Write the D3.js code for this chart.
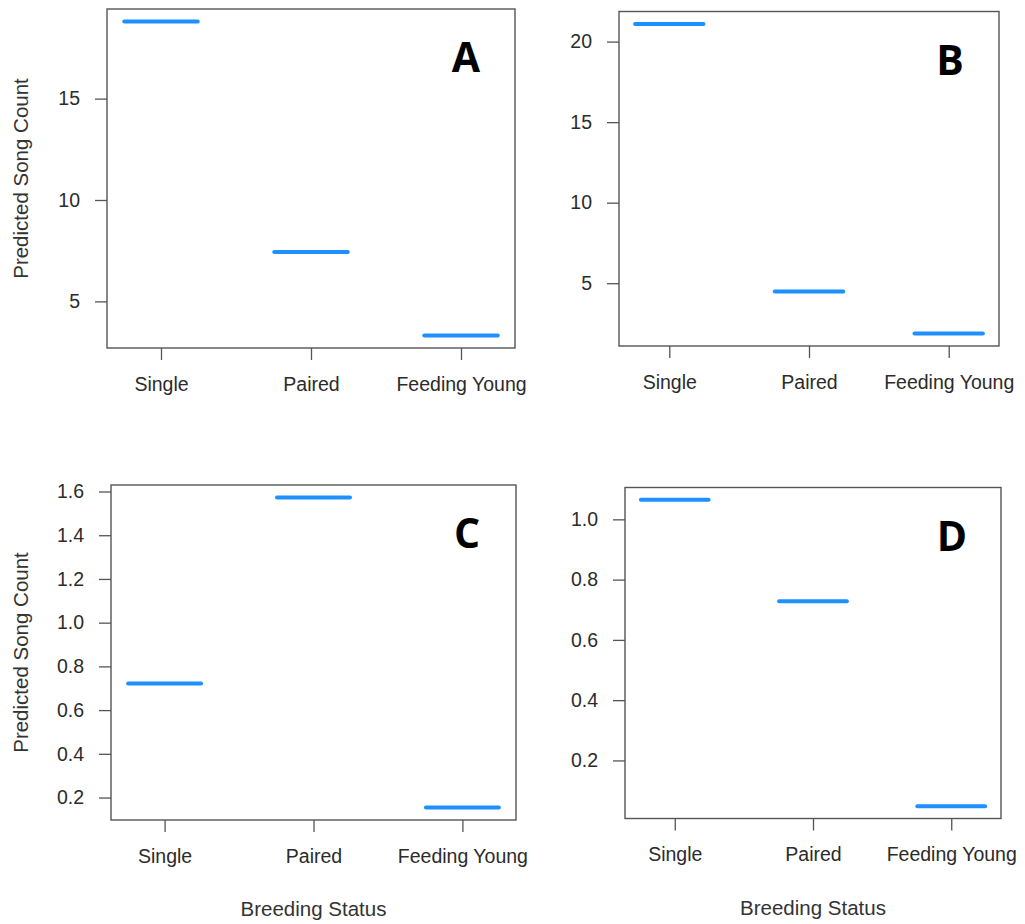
<!DOCTYPE html>
<html lang="en">
<head>
    <meta charset="UTF-8">
    <title>Predicted Song Count by Breeding Status</title>
    <script src="https://d3js.org/d3.v7.min.js"></script>
    <style>
        body { margin: 0; background: #fff; font-family: "Liberation Sans", Arial, sans-serif; }
        .tick text { font-size: 19.5px; fill: #2b2b2b; font-family: "Liberation Sans", Arial, sans-serif; }
        .tick line { stroke: #555; stroke-width: 1.3; }
        .axis-title { font-size: 20.5px; fill: #333; }
        .panel-label { font-family: "Open Sans", "DejaVu Sans", sans-serif; font-weight: 700; font-size: 41px; fill: #000; }
    </style>
</head>
<body>
    <svg width="1025" height="924"></svg>
    <script>
// Data
const categories = ['Single', 'Paired', 'Feeding Young'];

const songA = [18.8, 7.43, 3.32];
const songB = [21.1, 4.48, 1.87];
const songC = [0.722, 1.573, 0.154];
const songD = [1.065, 0.728, 0.048];

const ticksA = [5, 10, 15];
const ticksB = [5, 10, 15, 20];
const ticksC = [0.2, 0.4, 0.6, 0.8, 1.0, 1.2, 1.4, 1.6];
const ticksD = [0.2, 0.4, 0.6, 0.8, 1.0];

const panelLetters = ['A', 'B', 'C', 'D'];

// Plot boxes (left, top, right, bottom) for each panel
const panels = [
  { values: songA, ticks: ticksA, fmt: d3.format('d'),   box: [107, 9, 515, 348],   yTitle: true,  xTitle: false },
  { values: songB, ticks: ticksB, fmt: d3.format('d'),   box: [619, 11.5, 999, 346], yTitle: false, xTitle: false },
  { values: songC, ticks: ticksC, fmt: d3.format('.1f'), box: [111, 485, 516, 820], yTitle: true,  xTitle: true },
  { values: songD, ticks: ticksD, fmt: d3.format('.1f'), box: [625, 487.5, 1001, 818.5], yTitle: false, xTitle: true }
];

const svg = d3.select('svg');

svg.append('rect')
    .attr('width', 1025)
    .attr('height', 924)
    .attr('fill', '#fff');

panels.forEach((p, i) => {
  const [left, top, right, bottom] = p.box;

  // R-style axis limits: data range padded by 4% on each side
  const [lo, hi] = d3.extent(p.values);
  const pad = (hi - lo) * 0.04;

  const y = d3.scaleLinear()
      .domain([lo - pad, hi + pad])
      .range([bottom, top]);

  const x = d3.scalePoint()
      .domain(categories)
      .range([left, right])
      .padding(0.36);

  const g = svg.append('g');

  // y axis
  g.append('g')
      .attr('transform', `translate(${left},0)`)
      .call(d3.axisLeft(y).tickValues(p.ticks).tickFormat(p.fmt).tickSize(12).tickPadding(15))
      .call(a => a.select('.domain').remove());

  // x axis
  g.append('g')
      .attr('transform', `translate(0,${bottom})`)
      .call(d3.axisBottom(x).tickSize(12).tickPadding(17))
      .call(a => a.select('.domain').remove());

  // box around the plot
  g.append('rect')
      .attr('x', left)
      .attr('y', top)
      .attr('width', right - left)
      .attr('height', bottom - top)
      .attr('fill', 'none')
      .attr('stroke', '#555')
      .attr('stroke-width', 1.4);

  // predicted values as short horizontal segments
  const half = x.step() * 0.245;
  g.selectAll('.seg')
      .data(p.values)
    .enter().append('line')
      .attr('class', 'seg')
      .attr('x1', (d, j) => x(categories[j]) - half)
      .attr('x2', (d, j) => x(categories[j]) + half)
      .attr('y1', d => y(d))
      .attr('y2', d => y(d))
      .attr('stroke', '#1e90ff')
      .attr('stroke-width', 4)
      .attr('stroke-linecap', 'round');

  // panel letter
  g.append('text')
      .attr('class', 'panel-label')
      .attr('x', right - 49)
      .attr('y', top + 63)
      .attr('text-anchor', 'middle')
      .text(panelLetters[i]);

  if (p.yTitle) {
    g.append('text')
        .attr('class', 'axis-title')
        .attr('transform', `translate(27.5,${(top + bottom) / 2}) rotate(-90)`)
        .attr('text-anchor', 'middle')
        .text('Predicted Song Count');
  }

  if (p.xTitle) {
    g.append('text')
        .attr('class', 'axis-title')
        .attr('x', (left + right) / 2)
        .attr('y', bottom + 96)
        .attr('text-anchor', 'middle')
        .text('Breeding Status');
  }
});
    </script>
</body>
</html>
